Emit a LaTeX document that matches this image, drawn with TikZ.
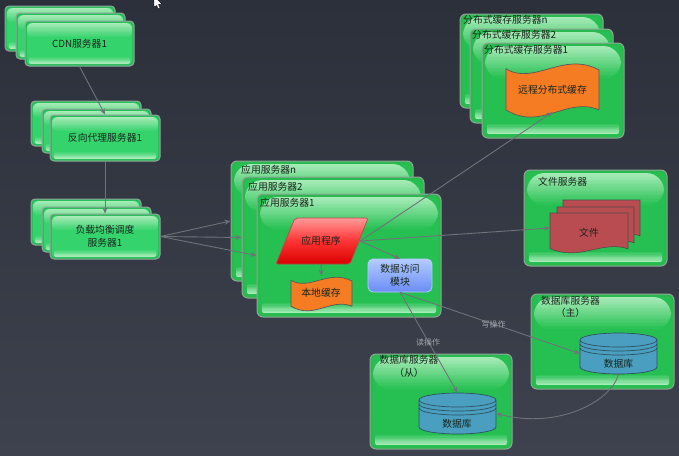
\documentclass[tikz,border=0pt]{standalone}
\usepackage{fontspec}
\setmainfont{Noto Sans CJK SC}
\usetikzlibrary{calc,arrows.meta}
\definecolor{bgtop}{HTML}{2B303B}
\definecolor{bgbot}{HTML}{3D424E}
\definecolor{edgegrey}{HTML}{8FA598}
\definecolor{srvbase}{HTML}{35D36C}
\definecolor{srvdark}{HTML}{23B655}
\definecolor{hostbase}{HTML}{26C052}
\definecolor{hostedge}{HTML}{2BB84E}
\definecolor{gloss}{HTML}{A8EBB8}
\definecolor{ink}{HTML}{17241C}
\definecolor{wire}{HTML}{6E737A}
\definecolor{wirelabel}{HTML}{A4A9AF}
\definecolor{orangewave}{HTML}{F57C22}
\definecolor{docred}{HTML}{B94C50}
\definecolor{dbblue}{HTML}{4A9EBF}
\definecolor{dbline}{HTML}{2E5160}
\definecolor{daotop}{HTML}{B4CCFF}
\definecolor{daobot}{HTML}{6A8CF5}
% fade from gloss (top) to #1 across the band #2 (height) inside the node, clipped with radius #3, inset #4
\newcommand{\topgloss}[4]{\begin{scope}[sharp corners]
  \clip[rounded corners=#3pt] ($(NW)+(#4,#4)$) rectangle ($(NE)+(-#4,#2)$);
  \foreach \i in {0,...,23}{
    \pgfmathtruncatemacro\pct{100-\i*100/23}
    \pgfmathsetmacro\ya{#4+(#2-#4)*\i/24}
    \pgfmathsetmacro\yb{#4+(#2-#4)*(\i+1.3)/24}
    \fill[gloss!\pct!#1,sharp corners] ($(NW)+(0,\ya)$) rectangle ($(NE)+(0,\yb)$);
  }
\end{scope}}
% fade from #1 to gloss going down, band #2 high, inset #3 from the sides, #4 from the bottom
\newcommand{\botgloss}[4]{\begin{scope}[sharp corners]
  \clip[rounded corners=2pt] ($(SW)+(#3,-#2-#4)$) rectangle ($(SE)+(-#3,-#4)$);
  \foreach \i in {0,...,7}{
    \pgfmathtruncatemacro\pct{(\i+1)*100/8}
    \pgfmathsetmacro\ya{-#4-#2+#2*\i/8}
    \pgfmathsetmacro\yb{-#4-#2+#2*(\i+1.3)/8}
    \fill[gloss!\pct!#1,sharp corners] ($(SW)+(0,\ya)$) rectangle ($(SE)+(0,\yb)$);
  }
\end{scope}}
\tikzset{
  x=1pt,y=-1pt,
  txt/.style={font=\fontsize{9.8}{12.5}\selectfont,text=ink,inner sep=0pt,align=center},
  title/.style={txt,anchor=west},
  srvbox/.style={txt,draw=edgegrey,line width=1pt,rounded corners=4pt,fill=srvbase,inner sep=0pt,
    path picture={
      \coordinate (NW) at (path picture bounding box.north west);
      \coordinate (NE) at (path picture bounding box.north east);
      \coordinate (SW) at (path picture bounding box.south west);
      \coordinate (SE) at (path picture bounding box.south east);
      \topgloss{srvbase}{17}{6}{2}
      \botgloss{srvbase}{7}{4}{2}
      \draw[srvdark,line width=1.2pt,rounded corners=4pt] ($(NW)+(1,1)$) rectangle ($(SE)+(-1,-1)$);
    }},
  hostbox/.style={draw=edgegrey,line width=1pt,rounded corners=6pt,fill=hostbase,inner sep=0pt,
    path picture={
      \coordinate (NW) at (path picture bounding box.north west);
      \coordinate (NE) at (path picture bounding box.north east);
      \coordinate (SW) at (path picture bounding box.south west);
      \coordinate (SE) at (path picture bounding box.south east);
      \topgloss{hostbase}{36}{18}{3}
      \botgloss{hostbase}{10}{5}{4}
      \draw[hostedge,line width=2pt,rounded corners=5pt] ($(NW)+(1.5,1.5)$) rectangle ($(SE)+(-1.5,-1.5)$);
    }},
  wirearrow/.style={draw=wire,line width=.9pt,-{Stealth[length=6pt,width=5pt]}},
  opl/.style={font=\fontsize{8}{10}\selectfont,text=wirelabel,inner sep=0pt},
  flat/.style={inner sep=0pt,txt},
}
% #1 name, #2 style, #3-#6 x1 y1 x2 y2, #7 text
\newcommand{\gb}[7]{\node[#2,minimum width={(#5-#3)*1pt},minimum height={(#6-#4)*1pt}] (#1) at ({(#3+#5)/2},{(#4+#6)/2}) {#7};}
% wave banner in a box
\newcommand{\wavefill}[4]{\begin{scope}[shift={(#1,#2)},x=#3pt,y=-#4pt]
  \filldraw[fill=orangewave,draw=gray!70!black,line width=.7pt] (0,.12) .. controls (.3,.42) and (.62,-.2) .. (1,.14) -- (1,.84) .. controls (.65,.6) and (.38,1.22) .. (0,.84) -- cycle;
\end{scope}}
% document sheet
\newcommand{\docsheet}[4]{\begin{scope}[shift={(#1,#2)},x=#3pt,y=-#4pt]
  \filldraw[fill=docred,draw=gray!60!black,line width=.6pt] (0,0) -- (1,0) -- (1,.85) .. controls (.65,.65) and (.4,1.15) .. (0,.85) -- cycle;
\end{scope}}
% database cylinder
\newcommand{\cyl}[4]{\begin{scope}
  \filldraw[fill=dbblue,draw=dbline,line width=.7pt] (#1,#2+7) arc[start angle=180,end angle=0,x radius=#3/2,y radius=-7] -- (#1+#3,#2+#4-7) arc[start angle=0,end angle=-180,x radius=#3/2,y radius=-7] -- cycle;
  \draw[dbline,line width=.7pt] (#1,#2+7) arc[start angle=180,end angle=360,x radius=#3/2,y radius=-7];
  \draw[dbline,line width=.7pt] (#1,#2+11) arc[start angle=180,end angle=360,x radius=#3/2,y radius=-7];
  \draw[dbline,line width=.7pt] (#1,#2+15) arc[start angle=180,end angle=360,x radius=#3/2,y radius=-7];
\end{scope}}
\begin{document}
\begin{tikzpicture}
\useasboundingbox (0,0) rectangle (679,455);
\shade[top color=bgtop,bottom color=bgbot] (0,0) rectangle (679,455);
% mouse pointer
\filldraw[fill=white,draw=black,line width=.4pt] (154,-1) -- (154,7) -- (156.5,5.5) -- (158.5,9) -- (160,8) -- (158.5,4.5) -- (162,4) -- (157,-1) -- cycle;

% CDN stack
\gb{cdnn}{srvbox}{5}{6}{115}{51}{}
\gb{cdnb}{srvbox}{16}{13}{125}{59}{}
\gb{cdn}{srvbox}{25}{21}{134}{66}{CDN服务器1}
% reverse proxy stack
\gb{revn}{srvbox}{31}{101}{141}{146}{}
\gb{revb}{srvbox}{42}{109}{151}{153}{}
\gb{rev}{srvbox}{50}{115}{160}{161}{反向代理服务器1}
% load balancer stack
\gb{lbn}{srvbox}{31}{199}{141}{245}{}
\gb{lbb}{srvbox}{42}{207}{151}{252}{}
\gb{lb}{srvbox}{50}{214}{160}{259}{负载均衡调度\\服务器1}

% application servers
\gb{appn}{hostbox}{231}{161}{413}{281}{}
\node[title] (appnt) at (241,170) {应用服务器n};
\gb{appb}{hostbox}{242}{177}{424}{298}{}
\node[title] (appbt) at (248,187) {应用服务器2};
\gb{appa}{hostbox}{257}{194}{441}{317}{}
\node[title] (appat) at (260,203) {应用服务器1};
\shade[top color=red!40!white,bottom color=red!85!black,middle color=red!80!white,draw=gray!60!red,line width=.7pt,rounded corners=2pt]
  (295,218) -- (368,218) -- (350,264) -- (276,264) -- cycle;
\node[flat,minimum width=78pt,minimum height=46pt] (prog) at (321,241) {应用程序};
\wavefill{291}{276}{61}{36}
\node[flat,minimum width=61pt,minimum height=24pt] (local) at (321.5,288) {};
\node[txt] (localt) at (321,293) {本地缓存};
\shade[top color=daotop,bottom color=daobot,draw=daotop,line width=.8pt,rounded corners=5pt] (368,259) rectangle (432,292);
\node[flat,minimum width=64pt,minimum height=33pt] (dao) at (400,275.5) {数据访问\\模块};

% distributed cache servers
\gb{dcn}{hostbox}{460}{14}{603}{108}{}
\node[title] (dcnt) at (463,20) {分布式缓存服务器n};
\gb{dcb}{hostbox}{470}{29}{613}{123}{}
\node[title] (dcbt) at (472,35) {分布式缓存服务器2};
\gb{dca}{hostbox}{482}{43}{624}{138}{}
\node[title] (dcat) at (484,50) {分布式缓存服务器1};
\wavefill{506}{62}{93}{57}
\node[flat,minimum width=93pt,minimum height=44pt] (dist) at (552.5,90) {远程分布式缓存};

% file server
\gb{fs}{hostbox}{524}{170}{667}{266}{}
\node[title] (fst) at (538,182) {文件服务器};
\docsheet{563}{200}{77}{42}
\docsheet{557}{207}{77}{42}
\docsheet{550}{213}{78}{42}
\node[flat,minimum width=78pt,minimum height=30pt] (file) at (589,233) {文件};
\coordinate (filein) at (550,228);

% database servers
\gb{dbm}{hostbox}{531}{294}{674}{389}{}
\node[txt] (dbmt) at (570.5,307) {数据库服务器\\（主）};
\cyl{580}{333}{77}{41}
\node[flat,minimum width=77pt,minimum height=41pt] (dbmain) at (618.5,353.5) {};
\node[txt] (dbmaint) at (618.5,364) {数据库};
\gb{dbs}{hostbox}{370}{354}{512}{449}{}
\node[txt] (dbst) at (409,366.5) {数据库服务器\\（从）};
\cyl{419}{393}{77}{41}
\node[flat,minimum width=77pt,minimum height=41pt] (dbslave) at (457.5,413.5) {};
\node[txt] (dbslavet) at (457,424) {数据库};

% connectors
\draw[wirearrow] (cdn.south) -- (rev.north);
\draw[wirearrow] (rev.south) -- (lb.north);
\draw[wirearrow] (lb.east) -- (appn.west);
\draw[wirearrow] (lb.east) -- (appb.west);
\draw[wirearrow] (lb.east) -- (appa.west);
\draw[wirearrow] (prog.east) -- (dist.south);
\draw[wirearrow] (prog.east) -- (filein);
\draw[wirearrow] (prog.east) -- (dao.north);
\draw[wirearrow] (prog.south) -- (local.north);
\draw[wirearrow] (dao.south) -- node[opl,pos=.52] (wr) {写操作} (dbmain.west);
\draw[wirearrow] (dao.south) -- (dbslave.north);
\node[opl] (rd) at (428,342) {读操作};
\draw[wirearrow] (dbmain.south) .. controls (612,400) and (560,430) .. (dbslave.east);
\end{tikzpicture}
\end{document}
